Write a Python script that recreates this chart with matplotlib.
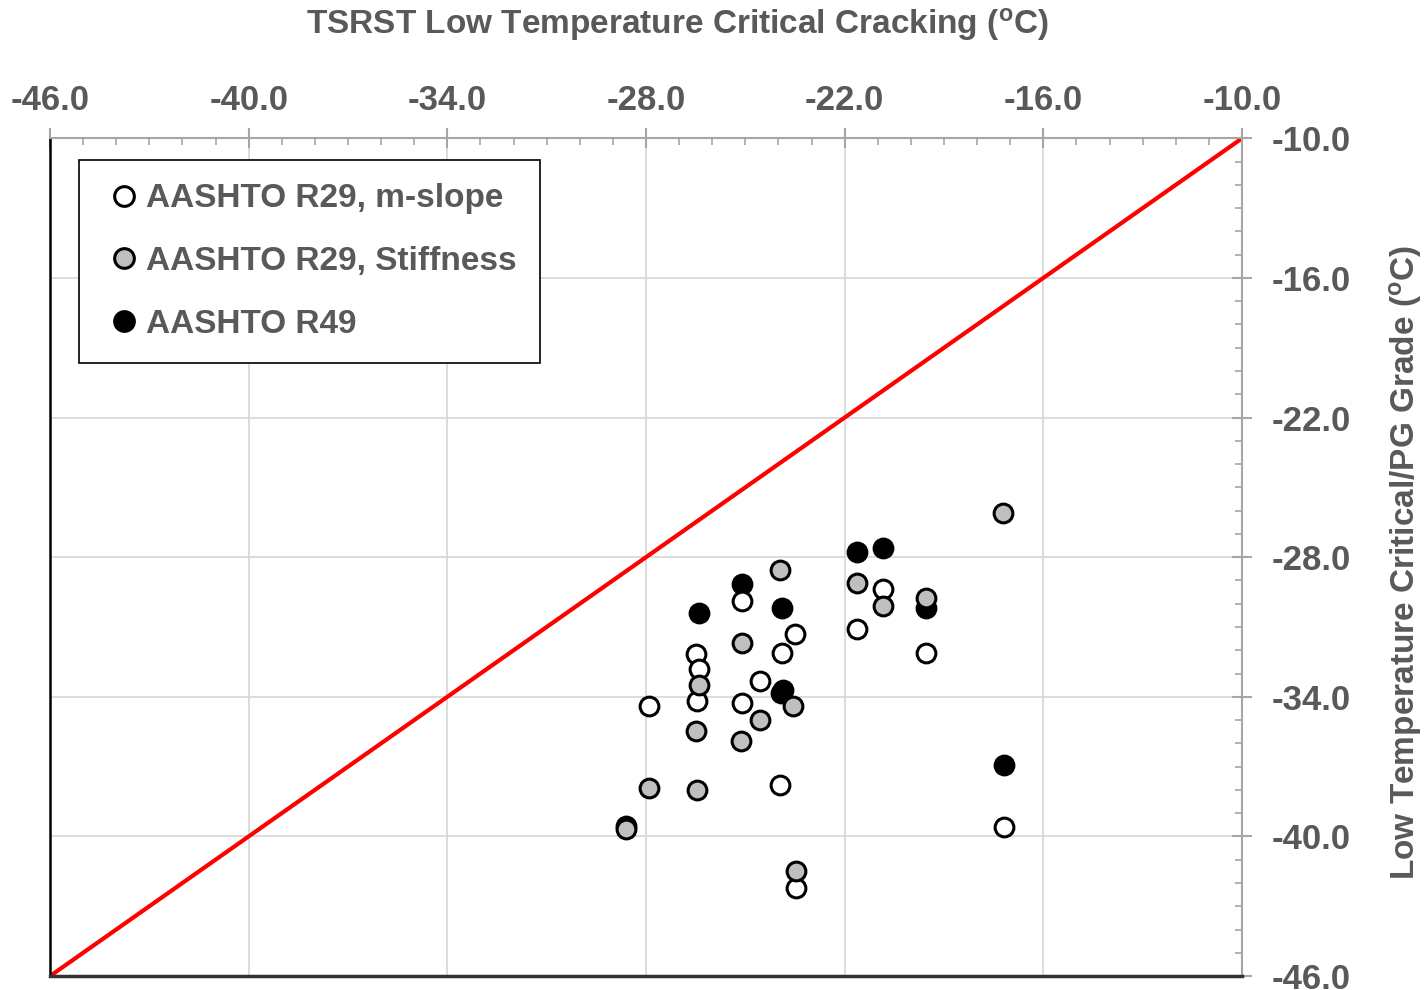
import matplotlib
matplotlib.use("Agg")
import matplotlib.pyplot as plt
from matplotlib.ticker import MultipleLocator, FormatStrFormatter

plt.rcParams['font.family'] = ['Liberation Sans', 'DejaVu Sans']
plt.rcParams['axes.unicode_minus'] = False
plt.rcParams['mathtext.fontset'] = 'custom'
plt.rcParams['mathtext.rm'] = 'Liberation Sans'
plt.rcParams['mathtext.bf'] = 'Liberation Sans:bold'

GREY_TXT = "#595959"

# TSRST (x) vs critical / PG grade (y), deg C
mslope_x = [-25.1, -23.5, -23.9, -26.5, -26.4, -26.45, -27.9, -25.1, -24.55, -23.95,
            -21.64, -20.83, -19.55, -17.2, -23.46]
mslope_y = [-29.9, -31.3, -32.1, -32.17, -32.8, -34.16, -34.4, -34.27, -33.3, -37.8,
            -31.1, -29.37, -32.1, -39.6, -42.2]

stiff_x = [-23.95, -25.1, -26.4, -23.55, -24.55, -26.5, -25.13, -27.9, -26.45, -28.61,
           -23.46, -17.23, -21.64, -20.83, -19.55]
stiff_y = [-28.57, -31.7, -33.48, -34.39, -35.0, -35.46, -35.88, -37.92, -38.0, -39.67,
           -41.47, -26.1, -29.09, -30.08, -29.76]

r49_x = [-25.1, -26.41, -23.9, -23.93, -23.86, -21.64, -20.83, -19.55, -17.2, -28.61]
r49_y = [-29.16, -30.4, -30.19, -33.84, -33.7, -27.78, -27.6, -30.19, -36.92, -39.54]

line_x = [-46, -10]
line_y = [-46, -10]

fig = plt.figure(figsize=(14.25, 9.9), dpi=100)
ax = fig.add_axes([0.0351, 0.0141, 0.8365, 0.8462])

ax.plot(line_x, line_y, color="red", lw=3.0, zorder=2)

mk = dict(marker="o", linestyle="none", markersize=13.5, markeredgecolor="black",
          markeredgewidth=2.2)
ax.plot(r49_x, r49_y, markerfacecolor="black", label="AASHTO R49", zorder=3, **mk)
ax.plot(mslope_x, mslope_y, markerfacecolor="white", label="AASHTO R29, m-slope", zorder=4, **mk)
ax.plot(stiff_x, stiff_y, markerfacecolor="#bfbfbf", label="AASHTO R29, Stiffness", zorder=5, **mk)

ax.set_xlim(-46, -10)
ax.set_ylim(-46, -10)

ax.xaxis.set_ticks_position("top")
ax.yaxis.set_ticks_position("right")
ax.xaxis.set_major_locator(MultipleLocator(6, offset=2))
ax.yaxis.set_major_locator(MultipleLocator(6, offset=2))
ax.xaxis.set_minor_locator(MultipleLocator(1))
ax.yaxis.set_minor_locator(MultipleLocator(1))
ax.xaxis.set_major_formatter(FormatStrFormatter("%.1f"))
ax.yaxis.set_major_formatter(FormatStrFormatter("%.1f"))

ax.tick_params(which="major", direction="inout", length=15, width=1.5, color="#a6a6a6",
               labelsize=25, labelcolor=GREY_TXT, pad=14)
ax.tick_params(axis="x", which="major", pad=8)
ax.tick_params(which="minor", direction="in", length=5, width=1.2, color="#a6a6a6")
for lab in ax.get_xticklabels() + ax.get_yticklabels():
    lab.set_fontweight("bold")

ax.grid(which="major", color="#d9d9d9", lw=1.3)
ax.set_axisbelow(True)

ax.spines["top"].set_color("#a6a6a6")
ax.spines["right"].set_color("#a6a6a6")
ax.spines["top"].set_linewidth(1.5)
ax.spines["right"].set_linewidth(1.5)
ax.spines["left"].set_color("black")
ax.spines["left"].set_linewidth(1.8)
ax.spines["bottom"].set_color("#333333")
ax.spines["bottom"].set_linewidth(2.5)

handles, labels = ax.get_legend_handles_labels()
order = [1, 2, 0]
leg = ax.legend([handles[i] for i in order], [labels[i] for i in order],
                loc="upper left", bbox_to_anchor=(0.0243, 0.974), borderaxespad=0,
                fancybox=False, edgecolor="black", framealpha=1,
                prop={"size": 24, "weight": "bold"}, handlelength=1.3,
                handletextpad=0.0, labelspacing=0.95, borderpad=0.7,
                markerscale=1.05)
leg.get_frame().set_linewidth(1.2)
for t in leg.get_texts():
    t.set_color(GREY_TXT)

fig.text(0.475, 0.975, r"TSRST Low Temperature Critical Cracking ($\mathbf{^o}$C)",
         ha="center", va="center", fontsize=24, fontweight="bold", color=GREY_TXT)
fig.text(0.986, 0.432, r"Low Temperature Critical/PG Grade ($\mathbf{^o}$C)",
         ha="center", va="center", rotation=90, fontsize=24, fontweight="bold",
         color=GREY_TXT)

fig.savefig("out.png", dpi=100)
